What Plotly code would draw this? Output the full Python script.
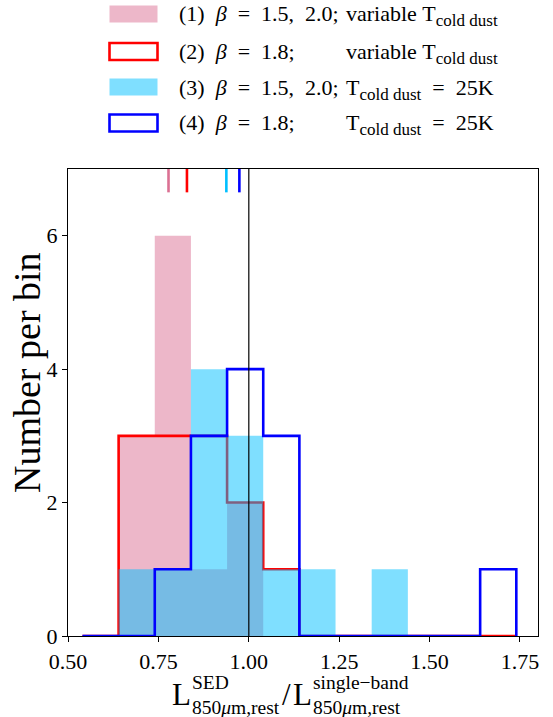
import plotly.graph_objects as go

# ---------------- data ----------------
bin_edges = [0.54, 0.64, 0.74, 0.84, 0.94, 1.04, 1.14, 1.24, 1.34, 1.44, 1.54, 1.64, 1.74]
counts_1 = [0, 3, 6, 1, 2, 0, 0, 0, 0, 0, 0, 0]   # beta=1.5,2.0; variable T (filled pink)
counts_2 = [0, 3, 3, 3, 2, 1, 0, 0, 0, 0, 0, 0]   # beta=1.8; variable T (red step)
counts_3 = [0, 1, 1, 4, 3, 1, 1, 0, 1, 0, 0, 0]   # beta=1.5,2.0; T=25K (filled light blue)
counts_4 = [0, 0, 1, 3, 4, 3, 0, 0, 0, 0, 0, 1]   # beta=1.8; T=25K (blue step)
medians = [0.778, 0.829, 0.938, 0.974]
reference_ratio = 1.0
x_ticks = [0.50, 0.75, 1.00, 1.25, 1.50, 1.75]
y_ticks = [0, 2, 4, 6]
NB = "\u00a0"
SUBSPAN = "<sub><span style='font-size:17px'>cold" + NB + "dust</span></sub>"
legend_col1 = ["(1)" + NB * 2 + "<i>β</i>" + NB * 2 + "=" + NB * 2 + "1.5," + NB * 2 + "2.0;",
               "(2)" + NB * 2 + "<i>β</i>" + NB * 2 + "=" + NB * 2 + "1.8;",
               "(3)" + NB * 2 + "<i>β</i>" + NB * 2 + "=" + NB * 2 + "1.5," + NB * 2 + "2.0;",
               "(4)" + NB * 2 + "<i>β</i>" + NB * 2 + "=" + NB * 2 + "1.8;"]
legend_col2 = ["variable" + NB + "T" + SUBSPAN,
               "variable" + NB + "T" + SUBSPAN,
               "T" + SUBSPAN + NB * 2 + "=" + NB * 2 + "25K",
               "T" + SUBSPAN + NB * 2 + "=" + NB * 2 + "25K"]

# ---------------- style ----------------
FONT = "Liberation Serif"
PINK = "rgba(219,112,147,0.5)"
SKY = "rgba(0,191,255,0.5)"
marker_colors = ["rgb(219,112,147)", "rgb(255,0,0)", "rgb(0,191,255)", "rgb(0,0,255)"]

W, H = 553, 717
L, R, T, B = 68, 538, 169, 636
PW, PH = R - L, B - T


def px(x):
    return (x - L) / PW


def py(y):
    return (B - y) / PH


def step_xy(edges, counts):
    xs = [edges[0]] + list(edges)
    ys = [0] + list(counts) + [0]
    return xs, ys


fig = go.Figure()

x1, y1 = step_xy(bin_edges, counts_1)
fig.add_trace(go.Scatter(x=x1, y=y1, mode="lines", line=dict(shape="hv", width=0),
                         fill="tozeroy", fillcolor=PINK, showlegend=False, hoverinfo="skip"))
x2, y2 = step_xy(bin_edges, counts_2)
fig.add_trace(go.Scatter(x=x2, y=y2, mode="lines", line=dict(shape="hv", width=2.6, color="red"),
                         showlegend=False, cliponaxis=False))
x3, y3 = step_xy(bin_edges, counts_3)
fig.add_trace(go.Scatter(x=x3, y=y3, mode="lines", line=dict(shape="hv", width=0),
                         fill="tozeroy", fillcolor=SKY, showlegend=False, hoverinfo="skip"))
x4, y4 = step_xy(bin_edges, counts_4)
fig.add_trace(go.Scatter(x=x4, y=y4, mode="lines", line=dict(shape="hv", width=2.6, color="blue"),
                         showlegend=False, cliponaxis=False))

shapes = []
# reference line
shapes.append(dict(type="line", xref="x", yref="y domain", x0=reference_ratio, x1=reference_ratio,
                   y0=0, y1=1, line=dict(color="rgba(0,0,0,0.8)", width=1.5), layer="above"))
# median markers at top
for m, c in zip(medians, marker_colors):
    shapes.append(dict(type="line", xref="x", yref="y domain", x0=m, x1=m, y0=0.95, y1=1,
                       line=dict(color=c, width=2.6), layer="above"))

# legend patches
row_centers = [14, 51.5, 87, 123]
patch_x0, patch_x1, half_h = 109.5, 157.5, 8.5
patch_styles = [
    dict(fillcolor=PINK, line=dict(width=0)),
    dict(fillcolor="white", line=dict(color="red", width=2.6)),
    dict(fillcolor=SKY, line=dict(width=0)),
    dict(fillcolor="white", line=dict(color="blue", width=2.6)),
]
for yc, st in zip(row_centers, patch_styles):
    shapes.append(dict(type="rect", xref="paper", yref="paper",
                       x0=px(patch_x0), x1=px(patch_x1), y0=py(yc + half_h), y1=py(yc - half_h), **st))

annotations = []
for yc, t1, t2 in zip(row_centers, legend_col1, legend_col2):
    annotations.append(dict(text=t1, xref="paper", yref="paper", x=px(177), y=py(yc),
                            xanchor="left", yanchor="middle", showarrow=False,
                            font=dict(family=FONT, size=22, color="black")))
    annotations.append(dict(text=t2, xref="paper", yref="paper", x=px(344), y=py(yc + 2),
                            xanchor="left", yanchor="middle", showarrow=False,
                            font=dict(family=FONT, size=22, color="black")))

# y axis label
annotations.append(dict(text="Number per bin", xref="paper", yref="paper", x=px(27), y=py(373),
                        xanchor="center", yanchor="middle", textangle=-90, showarrow=False,
                        font=dict(family=FONT, size=38, color="black")))

# x axis label, built from pieces (super/subscripts stacked in one text)
big, small = 31, 19.5
xlabel_parts = [
    ("L", 170, 694, big),
    ("SED<br>850<i>μ</i>m,rest", 190, 694.5, small),
    ("/", 280, 694, big),
    ("L", 291, 694, big),
    ("single−band<br>850<i>μ</i>m,rest", 311, 694.5, small),
]
for txt, xl, yc, sz in xlabel_parts:
    annotations.append(dict(text=txt, xref="paper", yref="paper", x=px(xl), y=py(yc),
                            xanchor="left", yanchor="middle", align="left", showarrow=False,
                            font=dict(family=FONT, size=sz, color="black")))

fig.update_layout(
    width=W, height=H,
    margin=dict(l=L, r=W - R, t=T, b=H - B, pad=0),
    paper_bgcolor="white", plot_bgcolor="white",
    font=dict(family=FONT, size=22, color="black"),
    shapes=shapes, annotations=annotations,
    showlegend=False,
)
fig.update_xaxes(range=[0.5, 1.8], tickvals=x_ticks, ticktext=[f"{v:.2f}" for v in x_ticks],
                 showgrid=False, zeroline=False, showline=True, mirror=True, linecolor="black",
                 linewidth=1.2, ticks="outside", ticklen=5, tickwidth=1.2, tickcolor="black",
                 tickfont=dict(family=FONT, size=22), layer="below traces")
fig.update_yaxes(range=[0, 7], tickvals=y_ticks, showgrid=False, zeroline=False, showline=True,
                 mirror=True, linecolor="black", linewidth=1.2, ticks="outside", ticklen=5,
                 tickwidth=1.2, tickcolor="black", tickfont=dict(family=FONT, size=22),
                 layer="below traces")

fig.write_html("out.html", config={"displayModeBar": False},
               post_script="document.body.style.margin='0';document.body.style.overflow='hidden';")
